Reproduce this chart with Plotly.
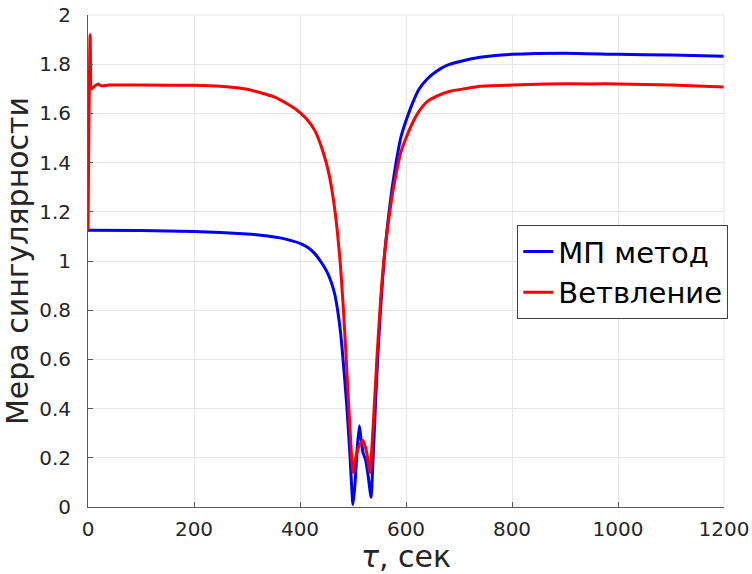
import plotly.graph_objects as go

# МП метод (blue)
mp_x = [0, 100, 200, 250, 300, 330, 360, 380, 400, 415, 428, 440, 450, 458, 465, 471,
        477, 482, 488, 494, 500, 504, 508, 512, 515, 519, 524, 529, 534, 538, 542, 546,
        551, 556, 561, 567, 574, 582, 590, 600, 612, 625, 640, 657, 677, 700, 740, 800,
        900, 1000, 1100, 1200]
mp_y = [1.125, 1.124, 1.12, 1.116, 1.11, 1.104, 1.095, 1.085, 1.072, 1.055, 1.03, 0.995,
        0.96, 0.92, 0.87, 0.80, 0.70, 0.58, 0.42, 0.22, 0.01, 0.10, 0.24, 0.33, 0.28,
        0.22, 0.19, 0.12, 0.04, 0.20, 0.40, 0.58, 0.77, 0.93, 1.06, 1.18, 1.30, 1.41,
        1.50, 1.57, 1.64, 1.70, 1.74, 1.77, 1.795, 1.81, 1.828, 1.84, 1.845, 1.84,
        1.837, 1.832]

# Ветвление (red)
br_x = [0, 4, 7, 12, 19, 25, 40, 100, 200, 250, 300, 350, 375, 395, 412, 428, 444, 455,
        463, 470, 476, 482, 488, 494, 500, 506, 512, 519, 526, 532, 538, 545, 552, 558,
        565, 572, 580, 590, 600, 612, 625, 640, 660, 683, 710, 740, 800, 866, 950, 1000,
        1100, 1200]
br_y = [1.125, 1.92, 1.70, 1.71, 1.72, 1.712, 1.715, 1.715, 1.714, 1.71, 1.698, 1.668,
        1.64, 1.612, 1.578, 1.53, 1.44, 1.35, 1.25, 1.13, 0.99, 0.80, 0.57, 0.33, 0.14,
        0.21, 0.25, 0.27, 0.22, 0.14, 0.33, 0.60, 0.84, 1.0, 1.13, 1.24, 1.34, 1.44,
        1.50, 1.56, 1.61, 1.648, 1.672, 1.69, 1.70, 1.71, 1.715, 1.72, 1.72, 1.72,
        1.715, 1.707]

x_ticks = [0, 200, 400, 600, 800, 1000, 1200]
y_ticks = [0, 0.2, 0.4, 0.6, 0.8, 1, 1.2, 1.4, 1.6, 1.8, 2]

FONT = "DejaVu Sans"
fig = go.Figure()
fig.add_trace(go.Scatter(x=mp_x, y=mp_y, mode="lines", name="МП метод",
                         line=dict(color="rgb(0,0,255)", width=3, shape="spline", smoothing=0.5)))
fig.add_trace(go.Scatter(x=br_x, y=br_y, mode="lines", name="Ветвление",
                         line=dict(color="rgb(255,0,0)", width=3, shape="spline", smoothing=0.5)))

fig.update_layout(
    width=752, height=574,
    margin=dict(l=88, r=28, t=15, b=67),
    paper_bgcolor="white", plot_bgcolor="white",
    font=dict(family=FONT, color="#262626"),
    showlegend=True,
    legend=dict(x=0.675, y=0.573, xanchor="left", yanchor="top",
                bgcolor="white", bordercolor="#404040", borderwidth=1,
                font=dict(family=FONT, size=29, color="black"),
                itemwidth=30, tracegroupgap=0),
    xaxis=dict(range=[0, 1200], tickvals=x_ticks, showgrid=True, gridcolor="#e6e6e6",
               zeroline=False, showline=True, linecolor="#5a5a5a", linewidth=1,
               ticks="inside", ticklen=5, tickcolor="#5a5a5a",
               tickfont=dict(family=FONT, size=20, color="#262626"),
               ticklabelstandoff=4, automargin=False,
               title=dict(text="<i>τ</i>, сек", font=dict(family=FONT, size=30, color="#262626"),
                          standoff=8)),
    yaxis=dict(range=[0, 2], tickvals=y_ticks, showgrid=True, gridcolor="#e6e6e6",
               zeroline=False, showline=True, linecolor="#5a5a5a", linewidth=1,
               ticks="inside", ticklen=5, tickcolor="#5a5a5a",
               tickfont=dict(family=FONT, size=20, color="#262626"),
               ticklabelstandoff=12, automargin=False,
               title=dict(text="Мера сингулярности", font=dict(family=FONT, size=30, color="#262626"),
                          standoff=2)),
)
fig.add_shape(type="line", xref="paper", yref="paper", x0=0, x1=1, y0=1, y1=1,
              line=dict(color="#e6e6e6", width=1))
fig.add_shape(type="line", xref="paper", yref="paper", x0=1, x1=1, y0=0, y1=1,
              line=dict(color="#e6e6e6", width=1))

fig.write_html("out.html")
